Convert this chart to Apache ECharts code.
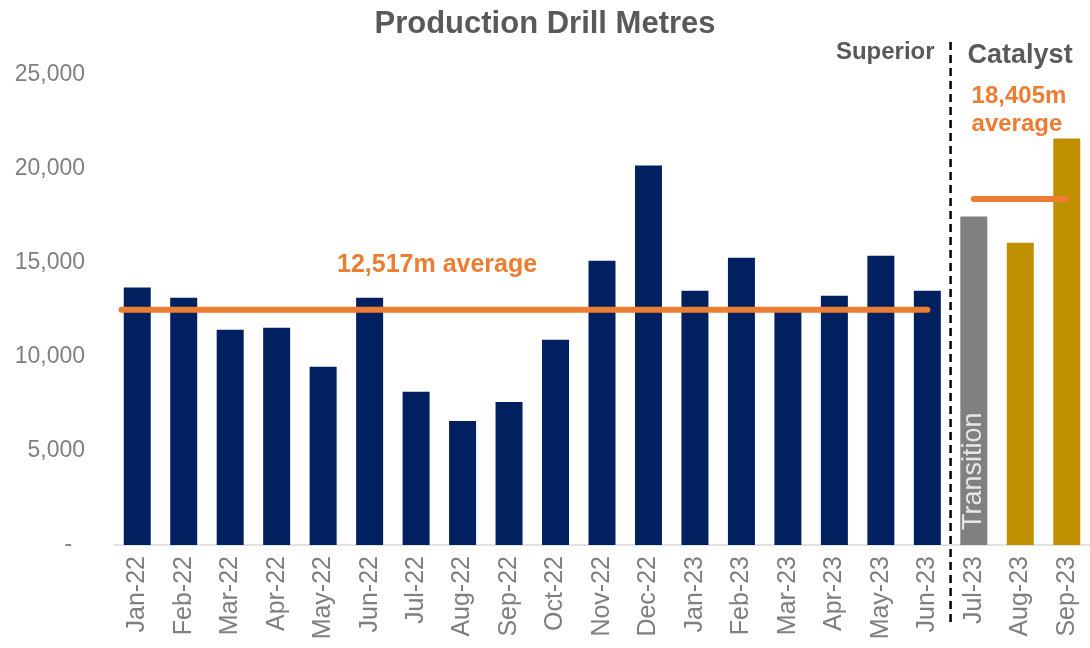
<!DOCTYPE html>
<html>
<head>
<meta charset="utf-8">
<script src="https://cdn.jsdelivr.net/npm/echarts@6/dist/echarts.min.js"></script>
<style>
    html, body { margin: 0; padding: 0; background: #fff; }
    #chart { width: 1090px; height: 648px; }
</style>
</head>
<body>
<div id="chart"></div>
<script>
    // 月份
    var months = ['Jan-22', 'Feb-22', 'Mar-22', 'Apr-22', 'May-22', 'Jun-22', 'Jul-22', 'Aug-22', 'Sep-22',
        'Oct-22', 'Nov-22', 'Dec-22', 'Jan-23', 'Feb-23', 'Mar-23', 'Apr-23', 'May-23', 'Jun-23',
        'Jul-23', 'Aug-23', 'Sep-23'];
    // 每月钻探米数
    var metres = [13700, 13150, 11450, 11550, 9480, 13150, 8150, 6600, 7610,
        10920, 15120, 20180, 13520, 15280, 12450, 13260, 15390, 13520,
        17470, 16080, 21620];
    // 承包商阶段
    var phases = ['Superior', 'Superior', 'Superior', 'Superior', 'Superior', 'Superior', 'Superior', 'Superior', 'Superior',
        'Superior', 'Superior', 'Superior', 'Superior', 'Superior', 'Superior', 'Superior', 'Superior', 'Superior',
        'Transition', 'Catalyst', 'Catalyst'];
    // 平均值
    var superiorAvg = 12517;
    var catalystAvg = 18405;
    var yTicks = [0, 5000, 10000, 15000, 20000, 25000];

    var phaseColor = {
        Superior: '#002060',
        Transition: '#808080',
        Catalyst: '#BF9000'
    };
    var orange = '#ED7D31';
    var textGrey = '#595959';
    var font = 'Liberation Sans';

    var chart = echarts.init(document.getElementById('chart'));

    var barData = metres.map(function (v, i) {
        var item = {
            value: v,
            itemStyle: { color: phaseColor[phases[i]] }
        };
        if (phases[i] === 'Transition') {
            item.label = {
                show: true,
                formatter: 'Transition',
                position: 'insideBottom',
                rotate: 90,
                align: 'left',
                verticalAlign: 'middle',
                distance: 15,
                color: '#e7e6e6',
                fontFamily: font,
                fontSize: 27
            };
        }
        return item;
    });

    var lastSuperior = phases.lastIndexOf('Superior');
    var firstCatalyst = phases.indexOf('Catalyst');

    var option = {
        animation: false,
        title: {
            text: 'Production Drill Metres',
            left: 'center',
            top: 4,
            textStyle: {
                color: textGrey,
                fontFamily: font,
                fontWeight: 'bold',
                fontSize: 31
            }
        },
        grid: {
            left: 114,
            top: 75,
            width: 979,
            bottom: 103,
            containLabel: false
        },
        xAxis: [{
            type: 'category',
            data: months,
            axisTick: { show: false },
            axisLine: { lineStyle: { color: '#d9d9d9', width: 1.5 } },
            axisLabel: {
                rotate: 90,
                interval: 0,
                margin: 11,
                color: '#7f7f7f',
                fontFamily: font,
                fontSize: 25
            }
        }, {
            type: 'value',
            min: -0.5,
            max: months.length - 0.5,
            show: false
        }],
        yAxis: {
            type: 'value',
            min: yTicks[0],
            max: yTicks[yTicks.length - 1],
            interval: 5000,
            splitLine: { show: false },
            axisLine: { show: false },
            axisTick: { show: false },
            axisLabel: {
                margin: 29,
                padding: [6, 0, 0, 0],
                color: '#7f7f7f',
                fontFamily: font,
                fontSize: 23,
                formatter: function (v) {
                    return v === 0 ? '-  ' : v.toLocaleString('en-US');
                }
            }
        },
        series: [{
            type: 'bar',
            data: barData,
            barWidth: 27,
            xAxisIndex: 0
        }, {
            type: 'line',
            xAxisIndex: 1,
            symbol: 'none',
            lineStyle: { color: orange, width: 6, cap: 'round' },
            data: [[-0.34, superiorAvg], [lastSuperior, superiorAvg]],
            z: 5
        }, {
            type: 'line',
            xAxisIndex: 1,
            symbol: 'none',
            lineStyle: { color: orange, width: 6, cap: 'round' },
            data: [[firstCatalyst - 1, catalystAvg], [months.length - 1, catalystAvg]],
            z: 5
        }]
    };
    chart.setOption(option);

    // 分隔虚线 + 注释
    var divX = chart.convertToPixel({ xAxisIndex: 1 }, lastSuperior + 0.5);
    chart.setOption({
        graphic: [{
            type: 'line',
            shape: { x1: divX, y1: 42, x2: divX, y2: 623 },
            style: { stroke: '#000', lineWidth: 2.5, lineDash: [8, 5] },
            z: 10
        }, {
            type: 'text',
            right: 1090 - divX + 16,
            top: 40,
            style: {
                text: 'Superior',
                fill: textGrey,
                font: 'bold 24px ' + font
            }
        }, {
            type: 'text',
            left: divX + 17,
            top: 42,
            style: {
                text: 'Catalyst',
                fill: textGrey,
                font: 'bold 27px ' + font
            }
        }, {
            type: 'text',
            left: divX + 21,
            top: 82,
            style: {
                text: echarts.format.addCommas(catalystAvg) + 'm\naverage',
                fill: orange,
                font: 'bold 24px ' + font,
                lineHeight: 28
            }
        }, {
            type: 'text',
            left: 337,
            top: 253,
            style: {
                text: echarts.format.addCommas(superiorAvg) + 'm average',
                fill: orange,
                font: 'bold 25px ' + font
            }
        }]
    });

    window.addEventListener('resize', function () {
        chart.resize();
    });
</script>
</body>
</html>
